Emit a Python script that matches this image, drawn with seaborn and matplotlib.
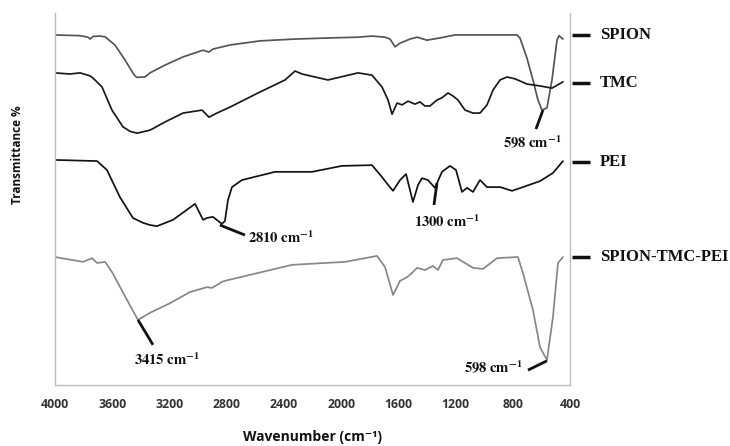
import matplotlib
matplotlib.use("Agg")
import matplotlib.pyplot as plt
import matplotlib.transforms as mtransforms
import seaborn as sns
import pandas as pd

# ---------------- data ----------------
spion_wn = [4000, 3825, 3769, 3755, 3734, 3685, 3650, 3581, 3511, 3462, 3441, 3427, 3371, 3336, 3231,
            3105, 2965, 2924, 2896, 2777, 2567, 2322, 2077, 1882, 1784, 1693, 1658, 1623, 1588,
            1518, 1469, 1400, 1309, 1204, 771, 750, 701, 659, 624, 596, 561, 526, 491, 477, 449]
spion_t = [94.1, 93.9, 93.5, 93.0, 93.7, 93.8, 93.6, 91.4, 87.4, 84.3, 83.1, 82.7, 82.8, 83.9, 86.0,
           88.2, 90.0, 89.5, 90.3, 91.4, 92.5, 93.0, 93.3, 93.5, 93.8, 93.5, 93.0, 90.9, 91.9,
           93.0, 93.5, 92.7, 93.3, 94.1, 94.1, 93.3, 87.9, 82.0, 76.6, 73.9, 74.5, 82.0, 92.7, 93.9, 93.0]

tmc_wn = [4000, 3895, 3825, 3755, 3734, 3671, 3602, 3525, 3476, 3427, 3336, 3231, 3105, 2972, 2924,
          2868, 2777, 2581, 2392, 2322, 2273, 2092, 1882, 1784, 1714, 1672, 1644, 1609, 1574,
          1532, 1484, 1449, 1414, 1379, 1330, 1295, 1253, 1218, 1183, 1134, 1078, 1029, 980,
          938, 889, 840, 784, 701, 610, 526, 449]
tmc_t = [83.9, 83.6, 83.9, 83.1, 82.5, 80.1, 73.9, 69.4, 68.2, 67.7, 68.5, 70.7, 73.1, 73.9, 72.0,
         73.1, 74.7, 78.5, 82.0, 84.4, 83.6, 82.0, 83.9, 83.3, 80.1, 76.6, 72.8, 75.8, 75.3,
         76.3, 75.5, 76.1, 75.0, 75.0, 76.6, 77.2, 78.5, 77.7, 76.6, 73.9, 73.1, 73.1, 75.3,
         79.3, 82.0, 82.8, 82.3, 80.9, 80.4, 79.8, 81.5]

pei_wn = [4000, 3706, 3637, 3546, 3455, 3385, 3336, 3287, 3175, 3021, 2965, 2938, 2896, 2833, 2812,
          2791, 2763, 2693, 2462, 2204, 1994, 1784, 1714, 1672, 1637, 1588, 1546, 1498, 1462,
          1435, 1393, 1344, 1295, 1239, 1197, 1155, 1120, 1078, 1029, 980, 889, 805, 729, 610,
          519, 449]
pei_t = [60.5, 60.2, 57.8, 50.5, 44.9, 43.6, 43.0, 42.7, 44.4, 48.7, 44.4, 44.9, 45.2, 43.3, 44.1,
         49.7, 53.2, 55.1, 57.3, 57.3, 58.9, 59.1, 55.9, 53.8, 52.2, 55.1, 56.7, 49.2, 53.8,
         55.6, 55.1, 53.0, 57.3, 58.9, 57.8, 51.9, 53.0, 51.9, 55.1, 53.2, 53.2, 52.2, 53.2, 54.8,
         57.0, 60.2]

stp_wn = [4000, 3804, 3741, 3706, 3650, 3602, 3497, 3420, 3336, 3196, 3056, 2938, 2903, 2868,
          2833, 2812, 2343, 1973, 1833, 1749, 1693, 1637, 1588, 1539, 1505, 1469, 1414, 1358,
          1323, 1288, 1190, 1078, 1008, 910, 764, 729, 659, 610, 561, 519, 484, 449]
stp_t = [34.4, 33.1, 34.1, 32.8, 33.1, 30.4, 22.9, 17.5, 19.4, 22.0, 25.0, 26.3, 26.1, 26.9,
         27.7, 28.0, 32.3, 33.1, 34.1, 34.7, 31.7, 24.2, 28.0, 29.0, 30.1, 31.5, 30.9, 32.0,
         30.9, 33.6, 34.1, 31.5, 31.2, 34.1, 34.4, 30.1, 20.2, 10.2, 6.7, 18.3, 32.8, 34.4]

series_names = ["SPION", "TMC", "PEI", "SPION-TMC-PEI"]
series_label_t = [94.1, 81.2, 59.9, 34.4]
x_ticks = [4000, 3600, 3200, 2800, 2400, 2000, 1600, 1200, 800, 400]

# peak annotations: (curve point wn, t), (line end wn, t), (text wn, t), label
peak_labels = ["598", "1300", "2810", "3415", "598"]
peak_points = [(589, 73.9), (1330, 54.3), (2847, 43.0), (3420, 17.5), (561, 6.5)]
peak_ends = [(638, 68.8), (1351, 48.4), (2672, 40.3), (3315, 10.8), (694, 4.0)]
peak_text = [(666, 65.1), (1260, 43.8), (2651, 39.5), (3217, 6.7), (729, 4.6)]
peak_align = ["center", "center", "left", "center", "right"]

# ---------------- plot ----------------
sns.set_style("white")
plt.rcParams["mathtext.fontset"] = "stix"

fig = plt.figure(figsize=(7.3, 4.46), dpi=100)
ax = fig.add_axes([55 / 730, 61 / 446, 515 / 730, 372 / 446])

colors = ["#555555", "#1a1a1a", "#121212", "#878787"]
data = [(spion_wn, spion_t), (tmc_wn, tmc_t), (pei_wn, pei_t), (stp_wn, stp_t)]
for (wn, t), c, name in zip(data, colors, series_names):
    df = pd.DataFrame({"wn": wn, "t": t})
    sns.lineplot(data=df, x="wn", y="t", sort=False, color=c, linewidth=1.25, ax=ax,
                 estimator=None)

ax.set_xlim(4000, 400)
ax.set_ylim(0, 100)
ax.set_xticks(x_ticks)
ax.set_xticklabels([str(v) for v in x_ticks], fontfamily="Open Sans", fontweight="bold",
                   fontsize=8.8, color="#333333")
ax.set_yticks([])
ax.tick_params(axis="x", length=0, pad=9)

for side in ["left", "bottom", "right"]:
    ax.spines[side].set_color("#bdbdbd")
    ax.spines[side].set_linewidth(1.0)
ax.spines["top"].set_visible(False)

ax.set_xlabel("Wavenumber (cm⁻¹)", family=["Open Sans", "DejaVu Sans"], fontweight="bold",
              fontsize=10, color="#111111", labelpad=14)
fig.text(18 / 730, 1 - 155 / 446, "Transmittance %", rotation=90, ha="center", va="center",
         family="Open Sans", fontweight="bold", fontsize=8.5, color="#111111")

# peak annotations
for lab, p, e, tx, al in zip(peak_labels, peak_points, peak_ends, peak_text, peak_align):
    ax.plot([p[0], e[0]], [p[1], e[1]], color="#111111", linewidth=2.0, solid_capstyle="butt")
    ax.text(tx[0], tx[1], r"$\mathbf{" + lab + r"\ cm^{-1}}$", ha=al, va="center",
            fontsize=10.5, color="#111111")

# right-hand series labels
trans = mtransforms.blended_transform_factory(ax.transAxes, ax.transData)
for name, yv in zip(series_names, series_label_t):
    ax.plot([1.004, 1.039], [yv, yv], color="#111111", linewidth=2.5, transform=trans,
            clip_on=False, solid_capstyle="butt")
    ax.text(1.058, yv, name, transform=trans, ha="left", va="center",
            family="Liberation Serif", fontweight="bold", fontsize=12, color="#111111")

if ax.get_legend():
    ax.get_legend().remove()
ax.set_ylabel("")

fig.savefig("out.png", dpi=100)
